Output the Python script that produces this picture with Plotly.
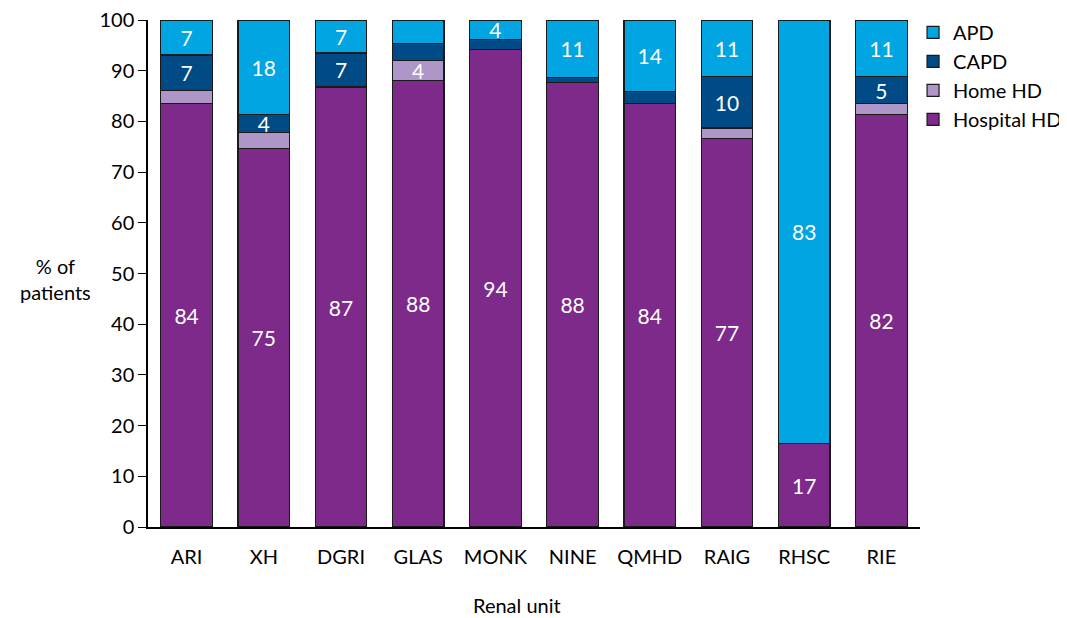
import plotly.graph_objects as go

units = ["ARI", "XH", "DGRI", "GLAS", "MONK", "NINE", "QMHD", "RAIG", "RHSC", "RIE"]
hospital_hd = [83.6, 74.7, 86.7, 88.0, 94.2, 87.7, 83.5, 76.7, 16.4, 81.4]
home_hd = [2.5, 3.1, 0.2, 4.0, 0.0, 0.0, 0.0, 2.0, 0.0, 2.1]
capd = [7.0, 3.6, 6.6, 3.4, 2.0, 0.9, 2.4, 10.1, 0.0, 5.3]
apd = [6.9, 18.6, 6.5, 4.6, 3.8, 11.4, 14.1, 11.2, 83.6, 11.2]

hospital_text = ["84", "75", "87", "88", "94", "88", "84", "77", "17", "82"]
home_text = ["", "", "", "4", "", "", "", "", "", ""]
capd_text = ["7", "4", "7", "", "", "", "", "10", "", "5"]
apd_text = ["7", "18", "7", "", "4", "11", "14", "11", "83", "11"]

y_ticks = [0, 10, 20, 30, 40, 50, 60, 70, 80, 90, 100]

FONT = "Lato"
series = [
    ("Hospital HD", hospital_hd, hospital_text, "#7D2A8A"),
    ("Home HD", home_hd, home_text, "#AE96C8"),
    ("CAPD", capd, capd_text, "#004A86"),
    ("APD", apd, apd_text, "#00A5E1"),
]

fig = go.Figure()
for name, vals, txt, col in series:
    fig.add_trace(go.Bar(
        name=name, x=units, y=vals, text=txt,
        legendgroup=name,
        textposition="inside", insidetextanchor="middle", textangle=0,
        textfont=dict(color="white", size=21, family=FONT),
        marker=dict(color=col, line=dict(color="#1a1a1a", width=1.2)),
        hoverinfo="x+y+name",
    ))

fig.update_layout(
    barmode="stack",
    bargap=0.33,
    width=1059, height=610,
    margin=dict(l=140, r=147, t=12, b=91, autoexpand=False),
    plot_bgcolor="white", paper_bgcolor="white",
    font=dict(family=FONT, size=20, color="black"),
    uniformtext=dict(minsize=21, mode="show"),
    showlegend=True,
    legend=dict(
        x=0.991, y=1.014, xanchor="left", yanchor="top",
        traceorder="reversed",
        font=dict(size=20, family=FONT),
        itemwidth=30,
        tracegroupgap=12,
        bgcolor="rgba(0,0,0,0)",
    ),
    xaxis=dict(
        showline=True, linecolor="black", linewidth=1.5,
        ticks="", tickfont=dict(size=20, family=FONT),
        ticklabelstandoff=11, automargin=False,
    ),
    yaxis=dict(
        range=[0, 100], tickvals=y_ticks,
        showline=True, linecolor="black", linewidth=1.5,
        ticks="outside", ticklen=8, tickcolor="black", tickwidth=1.2,
        showgrid=False, zeroline=False, automargin=False,
        ticklabeloverflow="allow",
        tickfont=dict(size=20, family=FONT),
    ),
    annotations=[
        dict(text="% of<br>patients", xref="paper", yref="paper",
             x=-0.12, y=0.49, xanchor="center", yanchor="middle", showarrow=False,
             font=dict(size=20, family=FONT), align="center"),
        dict(text="Renal unit", xref="paper", yref="paper",
             x=0.478, y=-0.154, xanchor="center", yanchor="middle", showarrow=False,
             font=dict(size=20, family=FONT)),
    ],
)

fig.write_html("out.html")
